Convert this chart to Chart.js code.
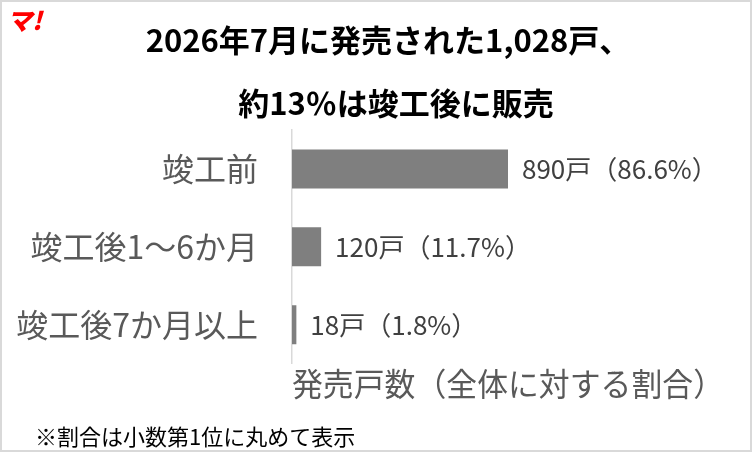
<!DOCTYPE html>
<html lang="ja">
<head>
<meta charset="utf-8">
<title>竣工後の販売割合</title>
<script src="https://cdn.jsdelivr.net/npm/chart.js@4.4.1/dist/chart.umd.min.js"></script>
<style>
  html, body { margin: 0; padding: 0; background: #fff; }
  #wrap { width: 752px; height: 452px; position: relative; }
</style>
</head>
<body>
<div id="wrap"><canvas id="chart" width="752" height="452"></canvas></div>
<script>
// データ
const categories = ['竣工前', '竣工後1～6か月', '竣工後7か月以上'];
const units = [890, 120, 18];
const shares = [86.6, 11.7, 1.8];
const titleLines = ['2026年7月に発売された1,028戸、', '約13％は竣工後に販売'];
const axisTitle = '発売戸数（全体に対する割合）';
const footnote = '※割合は小数第1位に丸めて表示';
const logoText = 'マ!';

const JP = '"Noto Sans CJK JP", "Noto Sans", sans-serif';

// バー右側のラベル「890戸（86.6%）」
const barLabels = units.map((u, i) => `${u}戸（${shares[i]}%）`);

// 枠線・ロゴ・タイトル・注記
const decor = {
  id: 'decor',
  beforeDraw(chart) {
    const ctx = chart.ctx;
    ctx.save();
    ctx.fillStyle = '#fff';
    ctx.fillRect(0, 0, chart.width, chart.height);
    ctx.restore();
  },
  afterDraw(chart) {
    const ctx = chart.ctx;
    ctx.save();
    // outer frame
    ctx.strokeStyle = '#d9d9d9';
    ctx.lineWidth = 2;
    ctx.strokeRect(1, 1, chart.width - 2, chart.height - 2);

    // logo
    ctx.fillStyle = '#ff0000';
    ctx.font = 'italic 900 25px ' + JP;
    ctx.textBaseline = 'middle';
    ctx.textAlign = 'left';
    ctx.fillText(logoText, 7, 20);

    // title (2 lines)
    ctx.fillStyle = '#000';
    ctx.font = 'bold 31px ' + JP;
    ctx.textAlign = 'center';
    ctx.fillText(titleLines[0], 388, 40);
    ctx.fillText(titleLines[1], 396, 103);

    // footnote
    ctx.font = '22px ' + JP;
    ctx.textAlign = 'left';
    ctx.fillText(footnote, 35, 437);
    ctx.restore();
  }
};

// バーの値ラベル
const valueLabels = {
  id: 'valueLabels',
  afterDatasetsDraw(chart) {
    const ctx = chart.ctx;
    const meta = chart.getDatasetMeta(0);
    ctx.save();
    ctx.fillStyle = '#404040';
    ctx.font = '26px ' + JP;
    ctx.textBaseline = 'middle';
    ctx.textAlign = 'left';
    meta.data.forEach((bar, i) => {
      ctx.fillText(barLabels[i], bar.x + 14, bar.y);
    });
    ctx.restore();
  }
};

new Chart(document.getElementById('chart'), {
  type: 'bar',
  data: {
    labels: categories,
    datasets: [{
      data: units,
      backgroundColor: '#7f7f7f',
      borderWidth: 0,
      categoryPercentage: 1,
      barPercentage: 0.5
    }]
  },
  options: {
    indexAxis: 'y',
    responsive: false,
    animation: false,
    events: [],
    layout: { padding: { top: 130, right: 28, bottom: 49, left: 0 } },
    plugins: {
      legend: { display: false },
      tooltip: { enabled: false },
      title: { display: false }
    },
    scales: {
      x: {
        min: 0,
        max: 1780,
        grid: { display: false, drawTicks: false },
        border: { display: false },
        ticks: { display: false },
        title: {
          display: true,
          text: axisTitle,
          color: '#595959',
          font: { family: JP, size: 32, lineHeight: 1.2 },
          padding: { top: 1, bottom: 0 }
        }
      },
      y: {
        grid: { display: false, drawTicks: false },
        border: { display: true, color: '#d9d9d9', width: 1.5 },
        ticks: {
          color: '#595959',
          font: { family: JP, size: 32 },
          padding: 34
        },
        afterFit(scale) { scale.width = 292; }
      }
    }
  },
  plugins: [decor, valueLabels]
});
</script>
</body>
</html>
